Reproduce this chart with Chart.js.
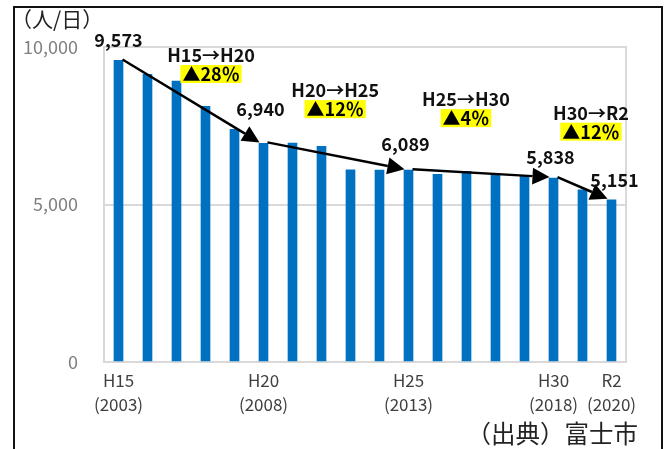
<!DOCTYPE html>
<html><head><meta charset="utf-8">
<script src="https://cdn.jsdelivr.net/npm/chart.js@4/dist/chart.umd.min.js"></script>
<style>
html,body{margin:0;padding:0;background:#fff;}
#wrap{position:relative;width:665px;height:449px;overflow:hidden;background:#fff;}
#frame{position:absolute;left:13px;top:6px;width:650px;height:500px;border:2px solid #111;box-sizing:border-box;}
canvas{position:absolute;left:0;top:0;}
</style></head><body>
<div id="wrap"><div id="frame"></div><canvas id="c" width="665" height="449"></canvas></div>
<script>
// ---- data ----
const years = [2003,2004,2005,2006,2007,2008,2009,2010,2011,2012,2013,2014,2015,2016,2017,2018,2019,2020];
const tickLabels = [["H15","(2003)"],"","","","",["H20","(2008)"],"","","","",["H25","(2013)"],"","","","",["H30","(2018)"],"",["R2","(2020)"]];
const riders = [9573,9135,8920,8120,7390,6940,6950,6845,6100,6090,6089,5955,6050,5975,5920,5838,5465,5151];
const yTickValues = [0,5000,10000];
const labeledIdx = [0,5,10,15,17];
const periods = ["H15→H20","H20→H25","H25→H30","H30→R2"];
const changes = ["▲28％","▲12％","▲4％","▲12％"];
const arrowPairs = [[0,5],[5,10],[10,15],[15,17]];
const unitLabel = "（人/日）";
const sourceLabel = "（出典）富士市";

// ---- layout / style (not data) ----
const FONT = "'Noto Sans CJK JP', sans-serif";
const valueLabelOffsets = [[0,-20],[-3,-34],[-3,-26],[-3,-21],[3,-20]];
const periodAnchors = [[3.19,9746],[7.47,8631],[11.98,8345],[16.29,7915]];
const boxDy = 19;

const annot = {
  id:'annot',
  beforeDatasetsDraw(chart){
    const {ctx, chartArea:a} = chart;
    ctx.save();
    ctx.strokeStyle = '#d9d9d9'; ctx.lineWidth = 2;
    ctx.strokeRect(a.left, a.top, a.right-a.left, a.bottom-a.top);
    ctx.restore();
  },
  afterDatasetsDraw(chart){
    const {ctx, scales:{x,y}} = chart;
    ctx.save();
    // arrows
    ctx.strokeStyle = '#000'; ctx.fillStyle = '#000'; ctx.lineWidth = 2.5;
    arrowPairs.forEach(([i,j])=>{
      const x1 = x.getPixelForValue(i)+4, y1 = y.getPixelForValue(riders[i])-1;
      const x2 = x.getPixelForValue(j)-4, y2 = y.getPixelForValue(riders[j])-1;
      const ang = Math.atan2(y2-y1, x2-x1);
      const L = 17, W = 8.5;
      const bx = x2 - L*Math.cos(ang), by = y2 - L*Math.sin(ang);
      ctx.beginPath(); ctx.moveTo(x1,y1); ctx.lineTo(bx,by); ctx.stroke();
      ctx.beginPath();
      ctx.moveTo(x2,y2);
      ctx.lineTo(bx + W*Math.sin(ang), by - W*Math.cos(ang));
      ctx.lineTo(bx - W*Math.sin(ang), by + W*Math.cos(ang));
      ctx.closePath(); ctx.fill();
    });
    // value labels
    ctx.font = "bold 18px " + FONT;
    ctx.textAlign = 'center'; ctx.textBaseline = 'middle'; ctx.fillStyle = '#111';
    labeledIdx.forEach((k,n)=>{
      const px = x.getPixelForValue(k) + valueLabelOffsets[n][0];
      const py = y.getPixelForValue(riders[k]) + valueLabelOffsets[n][1];
      ctx.fillText(riders[k].toLocaleString('en-US'), px, py);
    });
    // period labels
    periods.forEach((p,n)=>{
      const px = x.getPixelForValue(periodAnchors[n][0]);
      const py = y.getPixelForValue(periodAnchors[n][1]);
      ctx.font = "bold 18px " + FONT; ctx.fillStyle = '#111';
      ctx.fillText(p, px, py);
      const t = changes[n];
      const w = ctx.measureText(t).width + 4;
      ctx.fillStyle = '#FFFF00';
      ctx.fillRect(px - w/2, py + boxDy - 9, w, 18);
      ctx.fillStyle = '#000';
      ctx.fillText(t, px, py + boxDy);
    });
    // unit & source
    ctx.font = "21px " + FONT; ctx.textAlign = 'left'; ctx.fillStyle = '#222';
    ctx.fillText(unitLabel, 11, 19);
    ctx.font = "24.5px " + FONT; ctx.textAlign = 'right';
    ctx.fillText(sourceLabel, 638, 434);
    ctx.restore();
  }
};

new Chart(document.getElementById('c'), {
  type:'bar',
  data:{labels: years.map(String), datasets:[{data:riders, backgroundColor:'#0070C0', barThickness:9}]},
  options:{
    responsive:false, animation:false,
    layout:{padding:{top:47,right:39,left:0,bottom:0}},
    plugins:{legend:{display:false}, tooltip:{enabled:false}},
    scales:{
      x:{
        grid:{display:false}, border:{display:false},
        ticks:{autoSkip:false, maxRotation:0, minRotation:0, padding:-2, color:'#404040',
          font:{family:FONT, size:17, lineHeight:1.45},
          callback:(v,i)=>tickLabels[i]},
        afterFit:s=>{s.height=87;}
      },
      y:{
        min:0, max:10000,
        afterBuildTicks:s=>{s.ticks = yTickValues.map(v=>({value:v}));},
        ticks:{padding:26, color:'#808080', font:{family:FONT, size:18},
          callback:v=>Number(v).toLocaleString('en-US')},
        grid:{color:'#d9d9d9', lineWidth:2, drawTicks:false},
        border:{display:false},
        afterFit:s=>{s.width=104;}
      }
    }
  },
  plugins:[annot]
});
</script>
</body></html>
